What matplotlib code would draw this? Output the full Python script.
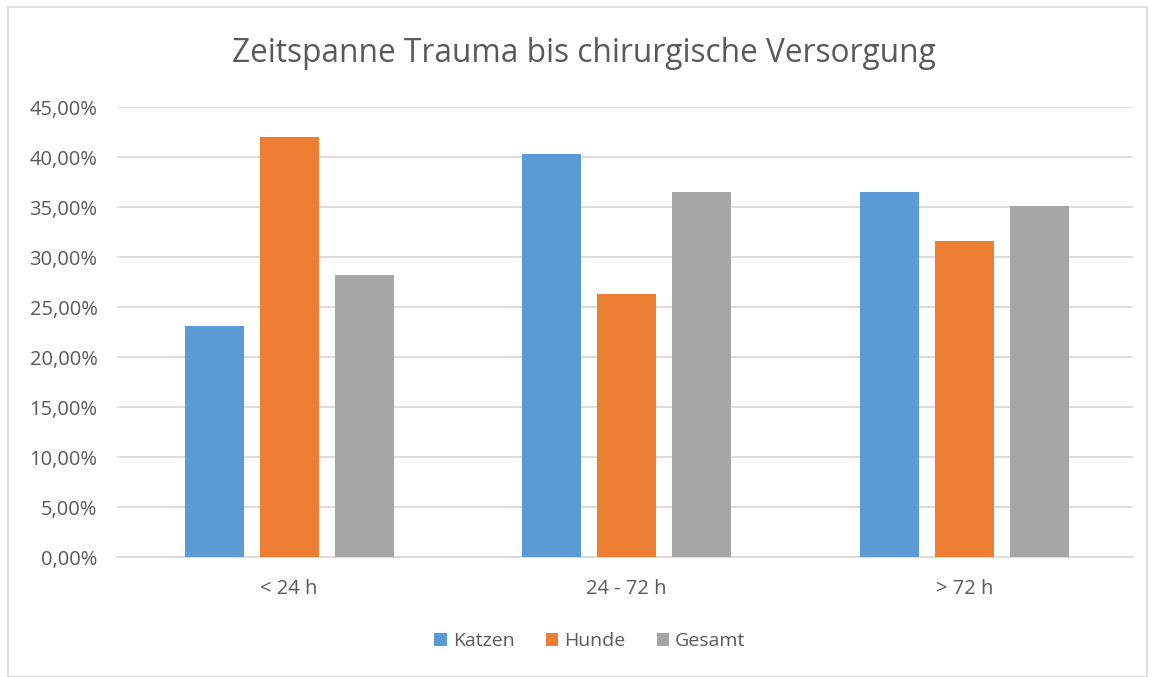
import matplotlib
matplotlib.use("Agg")
import matplotlib.pyplot as plt
import numpy as np
from matplotlib.patches import Rectangle

categories = ["< 24 h", "24 - 72 h", "> 72 h"]
series_names = ["Katzen", "Hunde", "Gesamt"]
katzen = [23.1, 40.3, 36.5]
hunde = [42.0, 26.3, 31.6]
gesamt = [28.2, 36.5, 35.1]
values = [katzen, hunde, gesamt]
colors = ["#5B9BD5", "#ED7D31", "#A5A5A5"]
yticks = [0, 5, 10, 15, 20, 25, 30, 35, 40, 45]
ytick_labels = ["0,00%", "5,00%", "10,00%", "15,00%", "20,00%", "25,00%",
                "30,00%", "35,00%", "40,00%", "45,00%"]
title = "Zeitspanne Trauma bis chirurgische Versorgung"

plt.rcParams['font.family'] = ['Open Sans', 'DejaVu Sans']
W, H = 1155, 677
fig = plt.figure(figsize=(W / 100, H / 100), dpi=100)
fig.patch.set_facecolor("white")

# chart border
fig.patches.append(Rectangle((8 / W, 0 / H), (1147 - 8) / W, (670 - 0) / H,
                             transform=fig.transFigure, fill=False,
                             edgecolor="#D9D9D9", linewidth=1.2))

ax = fig.add_axes([117 / W, 1 - 557 / H, (1133 - 117) / W, (557 - 107) / H])
x = np.arange(len(categories))
width = 0.175
offsets = [-0.222, 0.0, 0.222]
for vals, name, c, off in zip(values, series_names, colors, offsets):
    ax.bar(x + off, vals, width, color=c, label=name, zorder=3)

ax.set_xlim(-0.51, 2.5)
ax.set_ylim(0, 45)
ax.set_yticks(yticks)
ax.set_yticklabels(ytick_labels)
ax.set_xticks(x)
ax.set_xticklabels(categories)
ax.tick_params(axis="both", length=0, labelsize=14.5, colors="#595959")
ax.tick_params(axis="y", pad=14)
ax.tick_params(axis="x", pad=16)
ax.yaxis.grid(True, color="#D9D9D9", linewidth=1.3, zorder=0)
for s in ["top", "right", "left"]:
    ax.spines[s].set_visible(False)
ax.spines["bottom"].set_color("#D9D9D9")
ax.spines["bottom"].set_linewidth(1.3)

fig.text(584 / W, 1 - 53 / H, title, ha="center", va="center",
         fontsize=22.8, color="#595959")

leg = fig.legend(loc="center", bbox_to_anchor=(590 / W, 1 - 641 / H),
                 ncol=3, frameon=False, fontsize=14, handlelength=0.65,
                 handleheight=0.65, handletextpad=0.3, columnspacing=1.6)
for t in leg.get_texts():
    t.set_color("#595959")

fig.savefig("out.png", dpi=100, facecolor="white")
